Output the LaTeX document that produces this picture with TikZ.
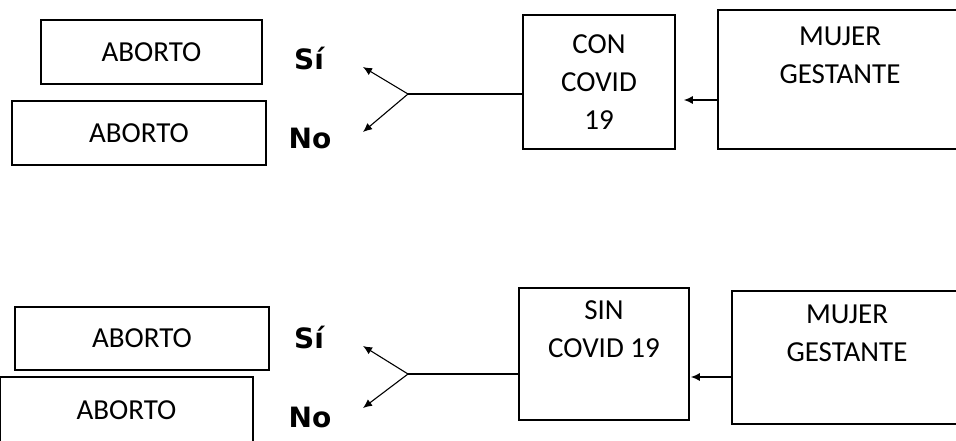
\documentclass[tikz,border=0pt]{standalone}
\usepackage{fontspec}
\setmainfont{Carlito}
\newfontfamily\labfont{DejaVu Sans}
\usepackage{tikz}
\usetikzlibrary{arrows.meta, calc}

\tikzset{
    box/.style={draw, line width=1.8pt, rectangle, align=center, inner sep=0pt,
        font=\fontsize{29}{38}\selectfont},
    lab/.style={font=\labfont\bfseries\fontsize{28}{32}\selectfont},
    link/.style={line width=1.1pt},
    tip/.style={line width=1.1pt, -{Latex[length=9pt, width=8pt]}}
}

\begin{document}
\begin{tikzpicture}[x=1pt, y=-1pt]

    \useasboundingbox (0,0) rectangle (956,441);

    %% --- Con COVID 19 ---
    \node[box, minimum width=221, minimum height=64] (AbortoA) at (151.5,52) {ABORTO};
    \node[box, minimum width=254, minimum height=64] (AbortoB) at (139,133) {ABORTO};
    \node[box, minimum width=152, minimum height=134] (ConCovid) at (599,82) {CON\\COVID\\19};
    \node[box, minimum width=244, minimum height=139] (MujerA) at (840,79.5) {MUJER\\GESTANTE\\\strut};

    \coordinate (ForkA) at (408,94);
    \coordinate (SiA) at (363,67);
    \coordinate (NoA) at (363,132);
    \coordinate (InA) at (0,100);

    \node[lab] (SiLabA) at (309,59) {Sí};
    \node[lab] (NoLabA) at (310,138) {No};

    \draw[link] (ForkA) -- (ForkA -| ConCovid.west);
    \draw[tip] (ForkA) -- (SiA);
    \draw[tip] (ForkA) -- (NoA);
    \draw[tip, shorten >=8pt] (MujerA.west |- InA) -- (ConCovid.east |- InA);

    %% --- Sin COVID 19 ---
    \node[box, minimum width=254, minimum height=63] (AbortoC) at (142,338.5) {ABORTO};
    \node[box, minimum width=253, minimum height=66] (AbortoD) at (126.5,410) {ABORTO};
    \node[box, minimum width=170, minimum height=132] (SinCovid) at (604,354) {SIN\\COVID 19\\\strut};
    \node[box, minimum width=230, minimum height=133] (MujerB) at (847,357.5) {MUJER\\GESTANTE\\\strut};

    \coordinate (ForkB) at (408,374);
    \coordinate (SiB) at (363,346);
    \coordinate (NoB) at (363,408);
    \coordinate (InB) at (0,377);

    \node[lab] (SiLabB) at (309,337) {Sí};
    \node[lab] (NoLabB) at (310,417) {No};

    \draw[link] (ForkB) -- (ForkB -| SinCovid.west);
    \draw[tip] (ForkB) -- (SiB);
    \draw[tip] (ForkB) -- (NoB);
    \draw[tip, shorten >=1pt] (MujerB.west |- InB) -- (SinCovid.east |- InB);

\end{tikzpicture}
\end{document}
